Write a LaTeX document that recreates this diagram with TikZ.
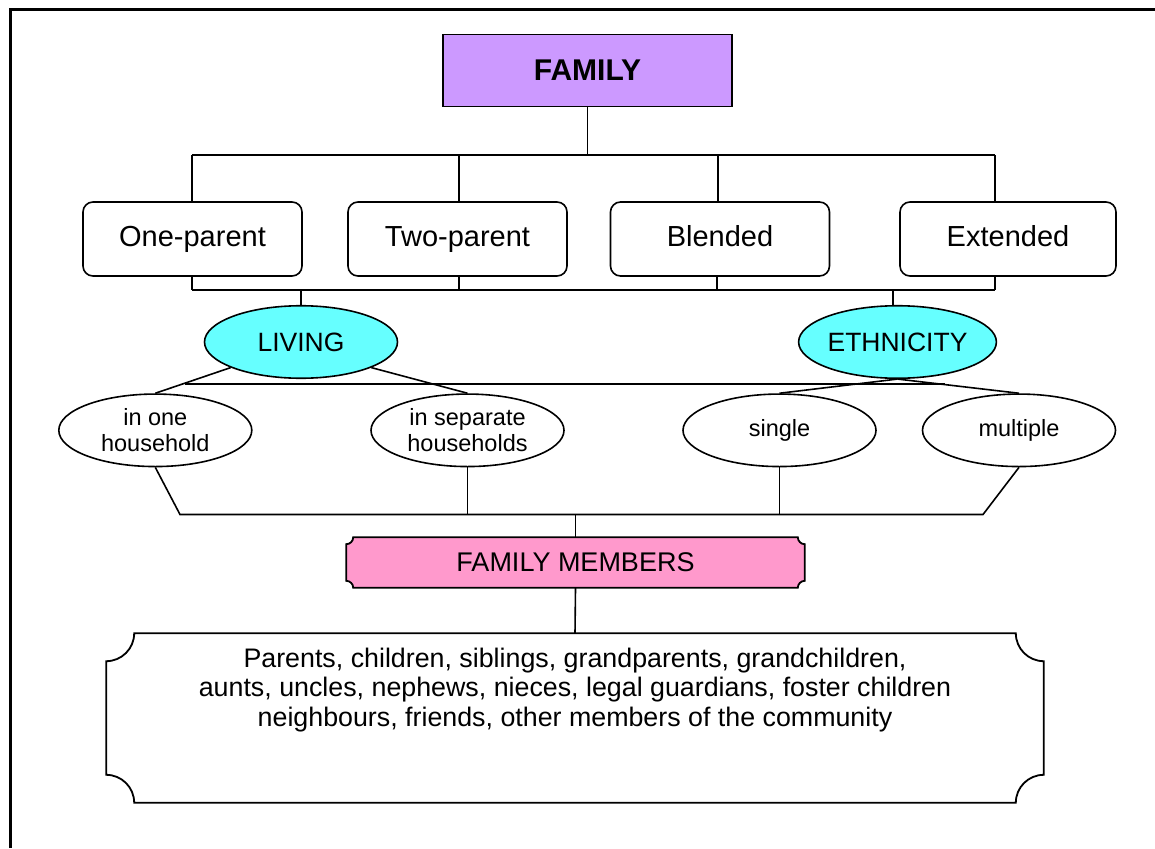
\documentclass[tikz,border=0pt]{standalone}
\usepackage{fontspec}
\setmainfont{Liberation Sans}
\usetikzlibrary{calc,shapes.geometric,backgrounds}
\definecolor{famc}{HTML}{CC99FF}
\definecolor{cyanc}{HTML}{66FFFF}
\definecolor{pinkc}{HTML}{FF99CC}
% plaque outline (concave corners) around node #1 with corner radius #2, style #3
\newcommand\plaqueoutline[3]{%
\draw[#3] ($(#1.north west)+(#2,0)$) -- ($(#1.north east)+(-#2,0)$)
 .. controls ($(#1.north east)+(-#2,0.552*#2)$) and ($(#1.north east)+(-0.552*#2,#2)$) .. ($(#1.north east)+(0,#2)$)
 -- ($(#1.south east)+(0,-#2)$)
 .. controls ($(#1.south east)+(-0.552*#2,-#2)$) and ($(#1.south east)+(-#2,-0.552*#2)$) .. ($(#1.south east)+(-#2,0)$)
 -- ($(#1.south west)+(#2,0)$)
 .. controls ($(#1.south west)+(#2,-0.552*#2)$) and ($(#1.south west)+(0.552*#2,-#2)$) .. ($(#1.south west)+(0,-#2)$)
 -- ($(#1.north west)+(0,#2)$)
 .. controls ($(#1.north west)+(0.552*#2,#2)$) and ($(#1.north west)+(#2,0.552*#2)$) .. cycle;}
\begin{document}
\begin{tikzpicture}[x=1pt,y=-1pt,line width=1.6pt,
  famstyle/.style={draw, fill=famc, line width=1.5pt, minimum width=289pt, minimum height=72pt, inner sep=0pt,
    font=\fontsize{30}{34}\selectfont\bfseries},
  typebox/.style={draw, rounded corners=10pt, line width=1.6pt, minimum width=219pt, minimum height=74pt, inner sep=0pt,
    text height=20.8pt, text depth=6pt, font=\fontsize{29}{34}\selectfont},
  bigoval/.style={ellipse, draw, fill=cyanc, line width=1.6pt, minimum width=193pt, minimum height=72.5pt, inner sep=0pt,
    font=\fontsize{26.5}{30}\selectfont},
  smalloval/.style={ellipse, draw, line width=1.6pt, minimum width=193pt, minimum height=72.5pt, inner sep=0pt,
    align=center, font=\fontsize{23.5}{26.5}\selectfont},
  plaquenode/.style={inner sep=0pt},
  conn/.style={line width=1.6pt}]
\useasboundingbox (0,0) rectangle (1155,848);
% outer frame (top and left edges visible)
\draw[line width=3pt] (10.5,848) -- (10.5,9.5) -- (1155,9.5);

% top node
\node[famstyle] (fam) at (587.5,70.5) {FAMILY};

% family types
\node[typebox] (one) at (192.5,239) {One-parent};
\node[typebox] (two) at (457.5,239) {Two-parent};
\node[typebox] (blend) at (720,239) {Blended};
\node[typebox, minimum width=216pt] (ext) at (1008,239) {Extended};

% category ovals
\node[bigoval] (living) at (301,342) {LIVING};
\node[bigoval] (eth) at (897.5,342) {ETHNICITY};

\node[smalloval] (oneh) at (155.3,430.3) {in one\\household};
\node[smalloval] (sep) at (467.5,430.3) {in separate\\households};
\node[smalloval] (single) at (779.5,430.3) {single};
\node[smalloval] (mult) at (1019,430.3) {multiple};

% family members plaque
\node[plaquenode, minimum width=457pt, minimum height=49pt, font=\fontsize{27}{30}\selectfont] (fm) at (575.5,562.5) {FAMILY MEMBERS};
\node[plaquenode, minimum width=936pt, minimum height=168pt] (memb) at (575,718) {};
\node[align=center, inner sep=0pt, font=\fontsize{26.8}{29.5}\selectfont] (membtxt) at (575,690)
  {Parents, children, siblings, grandparents, grandchildren,\\
   aunts, uncles, nephews, nieces, legal guardians, foster children\\
   neighbours, friends, other members of the community};
\begin{scope}[on background layer]
\plaqueoutline{fm}{7}{fill=pinkc, draw=black, line width=1.8pt}
\plaqueoutline{memb}{28}{fill=white, draw=black, line width=1.8pt}
\end{scope}

% top bracket
\coordinate (tj) at (587.5,155);
\coordinate (ta) at (192,155);
\coordinate (tb) at (459,155);
\coordinate (tc) at (718,155);
\coordinate (td) at (995,155);
\draw[conn] (fam.south) -- (tj);
\draw[conn] (ta) -- (td);
\draw[conn] (ta) -- (ta |- one.north);
\draw[conn] (tb) -- (tb |- two.north);
\draw[conn] (tc) -- (tc |- blend.north);
\draw[conn] (td) -- (td |- ext.north);

% lower bracket
\coordinate (ba) at (192,290);
\coordinate (bb) at (459,290);
\coordinate (bc) at (717,290);
\coordinate (bd) at (995,290);
\coordinate (bl) at (301,290);
\coordinate (be) at (893,290);
\draw[conn] (ba |- one.south) -- (ba);
\draw[conn] (bb |- two.south) -- (bb);
\draw[conn] (bc |- blend.south) -- (bc);
\draw[conn] (bd |- ext.south) -- (bd);
\draw[conn] (ba) -- (bd);
\draw[conn] (bl) -- (living.north);
\draw[conn] (be) -- (be |- eth.north);

% oval branches
\draw[conn] (living.200) -- (oneh.north);
\draw[conn] (living.-20) -- (sep.north);
\draw[conn] (eth.south) -- (single.north);
\draw[conn] (eth.south) -- (mult.north);
\coordinate (h1) at (185,384);
\coordinate (h2) at (945,384);
\draw[conn] (h1) -- (h2);

% bottom bracket
\coordinate (ja) at (180,514.5);
\coordinate (jd) at (983,514.5);
\coordinate (jm) at (575.5,514.5);
\draw[conn] (oneh.south) -- (ja) -- (jd) -- (mult.south);
\draw[conn] (sep.south) -- (sep.south |- ja);
\draw[conn] (single.south) -- (single.south |- ja);
\draw[conn] (jm) -- (fm.north);
\draw[conn] (fm.south) -- (memb.north);
\end{tikzpicture}
\end{document}
